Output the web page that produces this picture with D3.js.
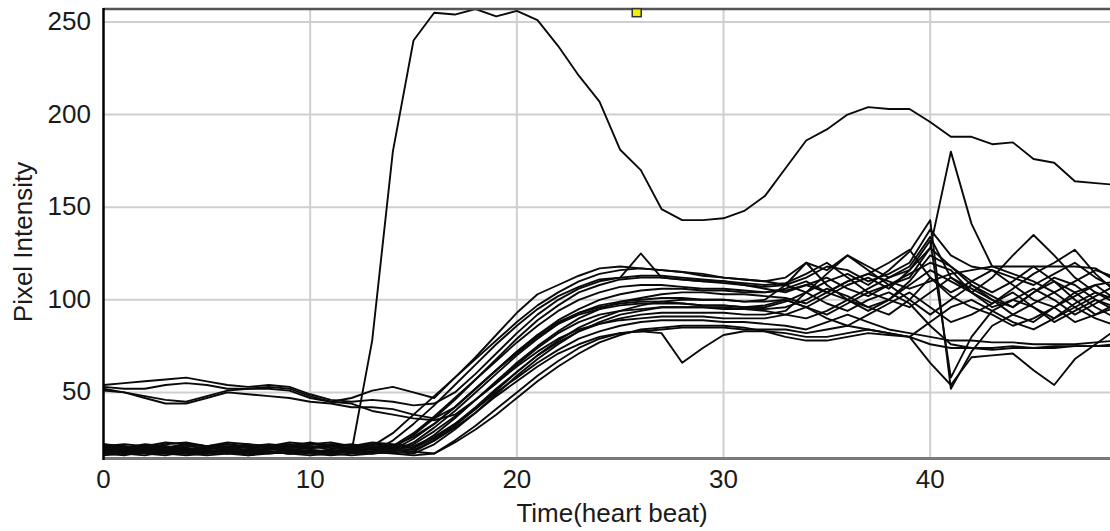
<!DOCTYPE html>
<html>
<head>
<meta charset="utf-8">
<script src="https://cdn.jsdelivr.net/npm/d3@7"></script>
<style>
  html, body { margin: 0; padding: 0; background: #fff; }
  svg { display: block; }
  text { font-family: "Liberation Sans", Arial, Helvetica, sans-serif; fill: #1a1a1a; }
</style>
</head>
<body>
<svg id="chart" width="1110" height="531"></svg>
<script>
// ---- data ----
const time = [0,1,2,3,4,5,6,7,8,9,10,11,12,13,14,15,16,17,18,19,20,21,22,23,24,25,26,27,28,29,30,31,32,33,34,35,36,37,38,39,40,41,42,43,44,45,46,47,48,49];

const xTicks = [0, 10, 20, 30, 40];
const yTicks = [50, 100, 150, 200, 250];

const sA  = [18,17,19,18,17,18,19,18,17,18,19,18,18,78,180,240,255,254,257,253,256,251,237,221,207,181,170,149,143,143,144,148,156,171,186,192,200,204,203,203,196,188,188,184,185,176,174,164,163,162];

const sC1 = [52,50,48,46,45,48,51,52,52,51,47,45,47,51,53,50,47,58,69,81,93,103,108,113,117,118,117,116,115,114,112,111,110,112,120,116,124,118,112,118,134,112,106,100,96,104,112,108,100,96];
const sC2 = [54,55,56,57,58,56,54,53,54,53,49,46,45,46,45,43,44,50,60,71,82,92,100,106,110,112,113,113,112,111,110,108,106,104,108,112,106,102,108,112,128,118,110,104,110,118,110,104,108,110];
const sC3 = [51,50,47,44,44,47,50,49,48,47,45,44,42,42,41,38,36,42,52,62,72,81,88,93,96,98,99,99,98,97,97,96,96,99,104,98,94,100,104,98,86,76,74,73,74,74,74,75,75,75];
const sC4 = [53,52,52,54,55,54,52,52,53,52,48,45,44,40,38,36,35,38,46,55,65,74,82,88,92,94,95,96,96,96,95,95,94,92,90,94,100,96,92,100,112,102,96,92,86,90,96,88,92,96];

const sB1  = [20,21,19,20,22,21,20,19,21,22,20,21,20,21,28,38,48,58,68,78,88,97,104,110,114,116,117,116,115,113,112,111,110,108,112,118,116,110,114,120,138,124,118,116,112,108,114,120,112,106];
const sB2  = [18,17,19,20,18,19,17,18,20,19,18,17,19,18,20,27,36,46,57,68,79,89,97,104,108,111,112,112,111,110,109,108,107,108,104,110,114,108,116,126,143,52,72,86,92,98,104,96,102,108];
const sB3  = [21,20,22,21,19,20,22,21,20,21,23,21,20,22,21,26,33,42,52,62,72,81,89,95,100,103,105,106,106,105,105,104,104,106,110,104,100,106,112,116,128,180,141,118,114,110,104,110,116,112];
const sB4  = [17,16,18,17,16,17,18,16,17,18,17,16,17,18,24,33,43,54,65,76,86,95,102,107,111,112,125,112,111,110,110,109,108,109,114,120,112,104,108,114,120,116,104,96,100,106,100,92,98,104];
const sB5  = [19,18,20,19,21,20,19,18,19,20,21,19,18,20,19,18,24,32,41,51,61,70,78,85,90,94,97,99,100,100,100,99,99,100,96,102,108,112,106,116,132,58,80,94,100,96,90,98,104,100];
const sB6  = [22,21,20,22,23,21,22,20,21,23,22,21,22,20,21,28,37,47,57,67,77,86,94,100,104,107,108,108,107,106,106,105,104,105,108,104,110,114,110,106,110,114,116,118,118,118,118,118,117,110];
const sB7  = [16,17,16,18,17,16,17,16,18,17,16,17,16,17,18,17,22,30,39,49,59,68,76,83,88,92,94,96,96,96,96,95,95,96,100,106,102,96,100,108,116,110,104,112,124,135,124,112,104,98];
const sB8  = [20,19,21,20,19,21,20,22,20,19,20,21,19,20,19,25,33,42,52,62,71,80,87,92,95,97,98,98,98,97,97,96,97,100,96,92,98,104,100,96,104,112,104,98,106,114,120,127,114,104];
const sB9  = [17,18,17,16,18,17,19,17,18,17,18,17,19,18,17,16,17,24,32,41,50,59,67,74,79,82,83,84,85,85,85,84,84,84,82,84,86,84,82,80,66,54,69,70,71,62,54,68,76,84];
const sB10 = [21,22,21,20,22,21,23,22,21,20,22,23,21,22,21,20,27,36,46,56,66,75,83,90,95,99,101,103,104,104,103,103,102,101,98,104,110,114,120,127,112,104,110,116,108,100,96,102,108,100];
const sB11 = [18,19,18,17,19,18,20,19,18,17,19,18,20,19,18,23,31,40,50,60,70,79,87,93,97,99,100,101,101,100,100,99,100,108,120,108,100,94,100,110,124,118,108,100,92,88,96,104,96,90];
const sB12 = [19,20,21,19,20,18,19,21,20,19,20,21,20,19,21,20,25,33,42,52,61,70,77,83,87,90,92,93,93,93,93,92,92,94,104,114,124,116,108,100,92,100,108,102,96,104,110,100,92,98];
const sB13 = [17,18,19,18,17,18,17,19,18,17,18,19,18,17,18,22,29,37,46,55,64,72,79,84,87,89,90,91,91,91,90,90,90,92,96,90,86,92,98,104,96,88,92,98,104,96,88,94,100,94];
const sB14 = [22,20,21,23,22,21,20,21,22,21,20,22,21,23,22,21,26,33,41,50,58,66,73,79,83,86,88,89,89,89,88,88,87,86,84,88,92,88,84,82,80,78,78,77,77,76,76,76,77,78];
const sB15 = [18,17,18,19,18,17,18,17,18,19,18,17,18,17,19,18,17,23,30,38,47,56,64,71,77,81,84,85,86,86,86,85,83,80,78,78,80,82,81,80,88,96,100,94,88,84,90,96,90,86];
const sB16 = [20,19,20,21,20,19,21,20,19,20,21,20,19,21,20,19,24,31,39,48,56,64,71,76,80,82,83,82,66,74,81,83,83,82,80,80,82,84,82,80,76,74,74,74,75,74,75,75,75,76];

const markerX = [25.8];
const markerY = [255];

const series = [sC1, sC2, sC3, sC4, sB1, sB2, sB3, sB4, sB5, sB6, sB7, sB8, sB9, sB10, sB11, sB12, sB13, sB14, sB15, sB16, sA];

// ---- layout ----
const W = 1110, H = 531;
const pLeft = 103.5, pRight = 1110, pTop = 9, pBottom = 458;

const x = d3.scaleLinear().domain([0, 48.7]).range([pLeft, pRight]);
const y = d3.scaleLinear().domain([14.6, 257]).range([pBottom, pTop]);

const svg = d3.select("#chart");
svg.append("rect").attr("width", W).attr("height", H).attr("fill", "#fff");

svg.append("defs").append("clipPath").attr("id", "plotclip")
  .append("rect").attr("x", pLeft).attr("y", pTop).attr("width", pRight - pLeft).attr("height", pBottom - pTop);

// gridlines
const grid = svg.append("g");
grid.append("g").selectAll("line").data(xTicks.filter(d => d > 0)).join("line")
  .attr("x1", d => x(d)).attr("x2", d => x(d))
  .attr("y1", pTop).attr("y2", pBottom)
  .attr("stroke", "#cfcfcf").attr("stroke-width", 2);
grid.append("g").selectAll("line").data(yTicks).join("line")
  .attr("x1", pLeft).attr("x2", pRight)
  .attr("y1", d => y(d)).attr("y2", d => y(d))
  .attr("stroke", "#cfcfcf").attr("stroke-width", 2);

// data lines
const line = d3.line().x((d, i) => x(time[i])).y(d => y(d));
svg.append("g").attr("clip-path", "url(#plotclip)")
  .selectAll("path").data(series).join("path")
  .attr("d", line)
  .attr("fill", "none")
  .attr("stroke", "#0a0a0a")
  .attr("stroke-width", 1.9)
  .attr("stroke-linejoin", "round");

// frame: top border, bottom axis, left axis
svg.append("line").attr("x1", pLeft).attr("x2", pRight).attr("y1", pTop).attr("y2", pTop)
  .attr("stroke", "#555").attr("stroke-width", 2.5);
svg.append("line").attr("x1", pLeft).attr("x2", pRight).attr("y1", pBottom + 0.5).attr("y2", pBottom + 0.5)
  .attr("stroke", "#7a7a7a").attr("stroke-width", 3);
svg.append("line").attr("x1", pLeft).attr("x2", pLeft).attr("y1", pTop - 1).attr("y2", pBottom + 2)
  .attr("stroke", "#000").attr("stroke-width", 2.5);

// marker
svg.append("g").selectAll("rect").data(markerX).join("rect")
  .attr("x", d => x(d) - 4.5).attr("y", (d, i) => y(markerY[i]) - 4)
  .attr("width", 9).attr("height", 8)
  .attr("fill", "#f2f200").attr("stroke", "#333").attr("stroke-width", 1.5);

// tick labels
svg.append("g").selectAll("text").data(yTicks).join("text")
  .attr("x", 91).attr("y", d => y(d) + 8)
  .attr("text-anchor", "end").attr("font-size", 26)
  .text(d => d);
svg.append("g").selectAll("text").data(xTicks).join("text")
  .attr("x", d => x(d)).attr("y", 488)
  .attr("text-anchor", "middle").attr("font-size", 26)
  .text(d => d);

// axis titles
svg.append("text").attr("x", 612).attr("y", 522)
  .attr("text-anchor", "middle").attr("font-size", 26)
  .text("Time(heart beat)");
svg.append("text").attr("transform", "translate(32,242) rotate(-90)")
  .attr("text-anchor", "middle").attr("font-size", 26)
  .text("Pixel Intensity");
</script>
</body>
</html>
